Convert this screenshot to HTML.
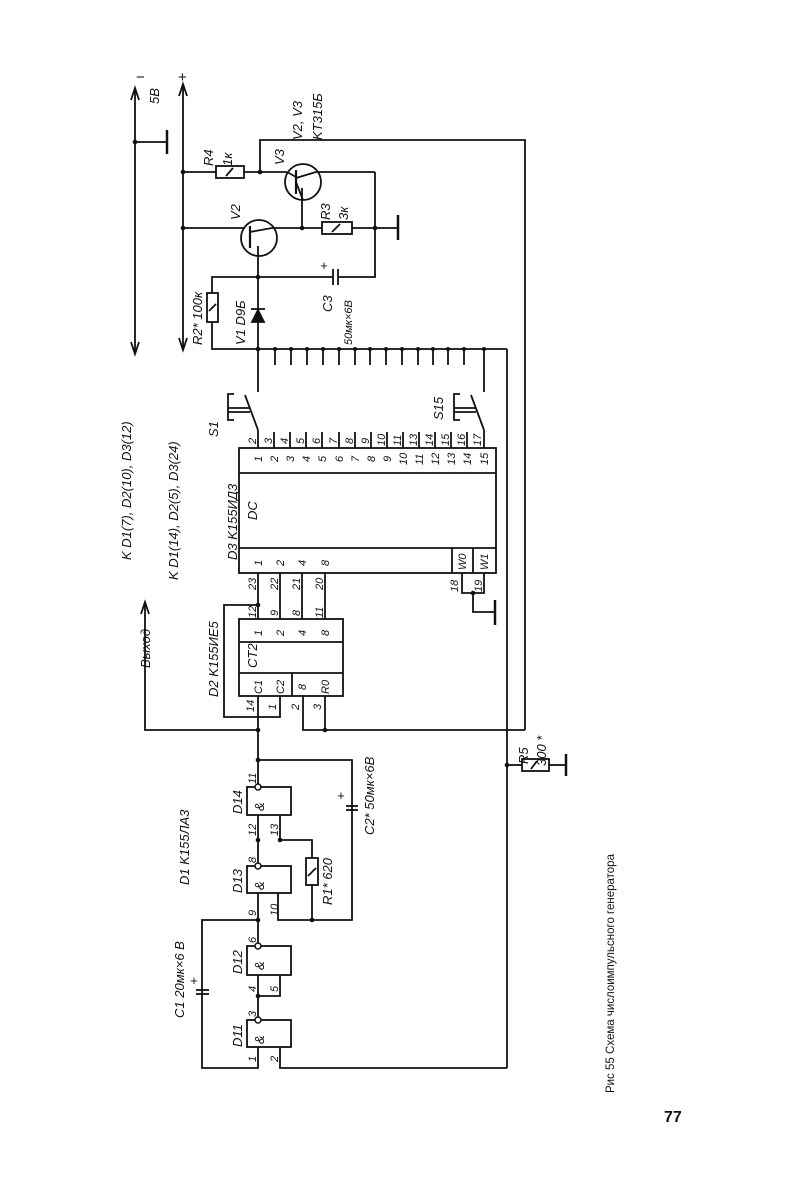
<!DOCTYPE html>
<html><head><meta charset="utf-8"><style>
html,body{margin:0;padding:0;background:#fff}
svg{display:block}
text{font-family:"Liberation Sans","DejaVu Sans",sans-serif;font-style:italic;fill:#111}
text.n{font-style:normal}
</style></head><body>
<svg width="801" height="1200" viewBox="0 0 801 1200" xmlns="http://www.w3.org/2000/svg">
<g stroke="#111" stroke-width="1.8" fill="none">
<line x1="135" y1="90" x2="135" y2="352"/>
<polyline points="131,100 135,88 139,100"/><polyline points="131,342 135,354 139,342"/>
<line x1="135" y1="142" x2="166" y2="142"/><line x1="167" y1="130" x2="167" y2="154" stroke-width="2.5"/>
<line x1="183" y1="86" x2="183" y2="348"/>
<polyline points="179,96 183,84 187,96"/><polyline points="179,338 183,350 187,338"/>
<line x1="183" y1="172" x2="216" y2="172"/><rect x="216" y="166" width="28" height="12"/><line x1="244" y1="172" x2="287" y2="172"/>
<line x1="226" y1="176" x2="233" y2="168"/>
<polyline points="260,172 260,140 525,140 525,730"/>
<circle cx="303" cy="182" r="18"/>
<line x1="296" y1="170" x2="296" y2="194" stroke-width="2.2"/>
<line x1="287" y1="172" x2="296" y2="177"/>
<line x1="296" y1="182" x2="303" y2="200"/><line x1="296" y1="178" x2="316" y2="172"/>
<line x1="316" y1="172" x2="375" y2="172"/>
<line x1="302" y1="188" x2="302" y2="228"/>
<line x1="375" y1="172" x2="375" y2="275"/>
<line x1="183" y1="228" x2="245" y2="228"/>
<circle cx="259" cy="238" r="18"/>
<line x1="250" y1="226" x2="250" y2="248" stroke-width="2.2"/>
<line x1="250" y1="232" x2="272" y2="228"/><line x1="258" y1="246" x2="258" y2="256"/>
<line x1="272" y1="228" x2="322" y2="228"/><rect x="322" y="222" width="30" height="12"/><line x1="332" y1="232" x2="340" y2="224"/>
<line x1="352" y1="228" x2="398" y2="228"/><line x1="398" y1="215" x2="398" y2="240" stroke-width="2.5"/>
<line x1="258" y1="256" x2="258" y2="349"/>
<line x1="258" y1="277" x2="333" y2="277"/><line x1="333" y1="269" x2="333" y2="285"/><line x1="338" y1="269" x2="338" y2="285"/>
<polyline points="338,277 375,277 375,274"/>
<polyline points="258,277 212,277 212,293"/><rect x="207" y="293" width="11" height="29"/><line x1="209" y1="311" x2="216" y2="304"/>
<polyline points="212,322 212,349 258,349"/>
<polygon points="252,322 264,322 258,310" fill="#111"/><line x1="251" y1="309" x2="265" y2="309"/>
<line x1="258" y1="349" x2="507" y2="349"/>
<line x1="507" y1="349" x2="507" y2="1068"/>
<g>
<line x1="275" y1="349" x2="275" y2="365"/><line x1="291" y1="349" x2="291" y2="365"/><line x1="307" y1="349" x2="307" y2="365"/><line x1="323" y1="349" x2="323" y2="365"/><line x1="339" y1="349" x2="339" y2="365"/><line x1="355" y1="349" x2="355" y2="365"/><line x1="370" y1="349" x2="370" y2="365"/><line x1="386" y1="349" x2="386" y2="365"/><line x1="402" y1="349" x2="402" y2="365"/><line x1="418" y1="349" x2="418" y2="365"/><line x1="433" y1="349" x2="433" y2="365"/><line x1="448" y1="349" x2="448" y2="365"/><line x1="464" y1="349" x2="464" y2="365"/>
</g>
<line x1="258" y1="349" x2="258" y2="392"/><line x1="484" y1="349" x2="484" y2="392"/>
<line x1="258" y1="430" x2="245" y2="395"/><line x1="228" y1="408" x2="250" y2="408"/><line x1="228" y1="412" x2="250" y2="412"/><polyline points="234,394 228,394 228,420 234,420"/>
<line x1="484" y1="430" x2="471" y2="395"/><line x1="454" y1="408" x2="476" y2="408"/><line x1="454" y1="412" x2="476" y2="412"/><polyline points="460,394 454,394 454,420 460,420"/>
<g>
<line x1="258" y1="430" x2="258" y2="448"/><line x1="274" y1="432" x2="274" y2="448"/><line x1="290" y1="432" x2="290" y2="448"/><line x1="306" y1="432" x2="306" y2="448"/><line x1="322" y1="432" x2="322" y2="448"/><line x1="339" y1="432" x2="339" y2="448"/><line x1="355" y1="432" x2="355" y2="448"/><line x1="371" y1="432" x2="371" y2="448"/><line x1="387" y1="432" x2="387" y2="448"/><line x1="403" y1="432" x2="403" y2="448"/><line x1="419" y1="432" x2="419" y2="448"/><line x1="435" y1="432" x2="435" y2="448"/><line x1="451" y1="432" x2="451" y2="448"/><line x1="467" y1="432" x2="467" y2="448"/><line x1="484" y1="430" x2="484" y2="448"/>
</g>
<rect x="239" y="448" width="257" height="125"/>
<line x1="239" y1="473" x2="496" y2="473"/><line x1="239" y1="548" x2="496" y2="548"/>
<line x1="452" y1="548" x2="452" y2="573"/><line x1="473" y1="548" x2="473" y2="573"/>
<line x1="258" y1="573" x2="258" y2="619"/><line x1="280" y1="573" x2="280" y2="619"/><line x1="302" y1="573" x2="302" y2="619"/><line x1="325" y1="573" x2="325" y2="619"/>
<polyline points="462,573 462,593 484,593 484,573"/><polyline points="473,593 473,612 495,612"/><line x1="495" y1="600" x2="495" y2="625" stroke-width="2.5"/>
<rect x="239" y="619" width="104" height="77"/>
<line x1="239" y1="642" x2="343" y2="642"/><line x1="239" y1="673" x2="343" y2="673"/><line x1="292" y1="673" x2="292" y2="696"/>
<polyline points="258,605 224,605 224,717 280,717 280,696"/>
<line x1="258" y1="696" x2="258" y2="787"/>
<polyline points="303,696 303,730 525,730"/><line x1="325" y1="696" x2="325" y2="730"/>
<polyline points="258,730 145,730 145,604"/><polyline points="141,614 145,602 149,614"/>
<polyline points="258,760 352,760 352,920 278,920 278,893"/>
<line x1="346" y1="806" x2="358" y2="806"/><line x1="346" y1="810" x2="358" y2="810"/>
<rect x="247" y="787" width="44" height="28"/><rect x="247" y="866" width="44" height="27"/><rect x="247" y="946" width="44" height="29"/><rect x="247" y="1020" width="44" height="27"/>
<line x1="258" y1="815" x2="258" y2="866"/><polyline points="280,815 280,840 312,840 312,858"/>
<rect x="306" y="858" width="12" height="27"/><line x1="308" y1="876" x2="316" y2="868"/><line x1="312" y1="885" x2="312" y2="920"/>
<line x1="258" y1="893" x2="258" y2="946"/>
<polyline points="258,920 202,920 202,1068 258,1068 258,1047"/>
<line x1="196" y1="990" x2="209" y2="990"/><line x1="196" y1="994" x2="209" y2="994"/>
<line x1="258" y1="975" x2="258" y2="1020"/><polyline points="258,996 280,996 280,975"/>
<polyline points="280,1047 280,1068 507,1068"/>
<line x1="507" y1="765" x2="522" y2="765"/><rect x="522" y="759" width="27" height="12"/><line x1="531" y1="769" x2="537" y2="761"/><line x1="549" y1="765" x2="565" y2="765"/><line x1="566" y1="754" x2="566" y2="776" stroke-width="2.5"/>
</g>
<g fill="#111">
<circle cx="135" cy="142" r="2.3"/><circle cx="183" cy="172" r="2.3"/><circle cx="183" cy="228" r="2.3"/><circle cx="260" cy="172" r="2.3"/><circle cx="302" cy="228" r="2.3"/><circle cx="375" cy="228" r="2.3"/><circle cx="258" cy="277" r="2.3"/><circle cx="258" cy="349" r="2.3"/>
<circle cx="275" cy="349" r="2"/><circle cx="291" cy="349" r="2"/><circle cx="307" cy="349" r="2"/><circle cx="323" cy="349" r="2"/><circle cx="339" cy="349" r="2"/><circle cx="355" cy="349" r="2"/><circle cx="370" cy="349" r="2"/><circle cx="386" cy="349" r="2"/><circle cx="402" cy="349" r="2"/><circle cx="418" cy="349" r="2"/><circle cx="433" cy="349" r="2"/><circle cx="448" cy="349" r="2"/><circle cx="464" cy="349" r="2"/><circle cx="484" cy="349" r="2"/>
<circle cx="258" cy="605" r="2.3"/><circle cx="473" cy="593" r="2.3"/><circle cx="258" cy="730" r="2.3"/><circle cx="325" cy="730" r="2.3"/><circle cx="258" cy="760" r="2.3"/><circle cx="258" cy="840" r="2.3"/><circle cx="280" cy="840" r="2.3"/><circle cx="258" cy="920" r="2.3"/><circle cx="312" cy="920" r="2.3"/><circle cx="258" cy="996" r="2.3"/><circle cx="507" cy="765" r="2.3"/>
</g>
<g fill="#fff" stroke="#111" stroke-width="1.5"><circle cx="258" cy="787" r="3"/><circle cx="258" cy="866" r="3"/><circle cx="258" cy="946" r="3"/><circle cx="258" cy="1020" r="3"/></g>
<g font-size="13">
<text transform="translate(131,560) rotate(-90)">K D1(7), D2(10), D3(12)</text>
<text transform="translate(178,580) rotate(-90)">K D1(14), D2(5), D3(24)</text>
<text transform="translate(159,104) rotate(-90)">5B</text>
<text class="n" x="136" y="82" font-size="15">−</text>
<text class="n" x="178" y="82" font-size="15">+</text>
<text transform="translate(302,140) rotate(-90)">V2, V3</text>
<text transform="translate(322,140) rotate(-90)">KT315Б</text>
<text transform="translate(213,166) rotate(-90)">R4</text>
<text transform="translate(232,166) rotate(-90)">1к</text>
<text transform="translate(284,165) rotate(-90)">V3</text>
<text transform="translate(240,220) rotate(-90)">V2</text>
<text transform="translate(330,220) rotate(-90)">R3</text>
<text transform="translate(348,220) rotate(-90)">3к</text>
<text x="320" y="270">+</text>
<text transform="translate(202,345) rotate(-90)">R2* 100к</text>
<text transform="translate(245,345) rotate(-90)">V1 D9Б</text>
<text transform="translate(332,312) rotate(-90)">C3</text>
<text transform="translate(352,345) rotate(-90)" font-size="11">50мк×6В</text>
<text transform="translate(218,437) rotate(-90)">S1</text>
<text transform="translate(443,420) rotate(-90)">S15</text>
</g>
<g font-size="11">
<text transform="translate(256,444) rotate(-90)">2</text><text transform="translate(272,444) rotate(-90)">3</text><text transform="translate(288,444) rotate(-90)">4</text><text transform="translate(304,444) rotate(-90)">5</text><text transform="translate(320,444) rotate(-90)">6</text><text transform="translate(337,444) rotate(-90)">7</text><text transform="translate(353,444) rotate(-90)">8</text><text transform="translate(369,444) rotate(-90)">9</text><text transform="translate(385,446) rotate(-90)">10</text><text transform="translate(401,446) rotate(-90)">11</text><text transform="translate(417,446) rotate(-90)">13</text><text transform="translate(433,446) rotate(-90)">14</text><text transform="translate(449,446) rotate(-90)">15</text><text transform="translate(465,446) rotate(-90)">16</text><text transform="translate(481,446) rotate(-90)">17</text>
<text transform="translate(262,462) rotate(-90)">1</text><text transform="translate(278,462) rotate(-90)">2</text><text transform="translate(294,462) rotate(-90)">3</text><text transform="translate(310,462) rotate(-90)">4</text><text transform="translate(326,462) rotate(-90)">5</text><text transform="translate(343,462) rotate(-90)">6</text><text transform="translate(359,462) rotate(-90)">7</text><text transform="translate(375,462) rotate(-90)">8</text><text transform="translate(391,462) rotate(-90)">9</text><text transform="translate(407,465) rotate(-90)">10</text><text transform="translate(423,465) rotate(-90)">11</text><text transform="translate(439,465) rotate(-90)">12</text><text transform="translate(455,465) rotate(-90)">13</text><text transform="translate(471,465) rotate(-90)">14</text><text transform="translate(488,465) rotate(-90)">15</text>
<text transform="translate(262,566) rotate(-90)">1</text><text transform="translate(284,566) rotate(-90)">2</text><text transform="translate(306,566) rotate(-90)">4</text><text transform="translate(329,566) rotate(-90)">8</text>
<text transform="translate(466,570) rotate(-90)">W0</text><text transform="translate(488,570) rotate(-90)">W1</text>
<text transform="translate(256,590) rotate(-90)">23</text><text transform="translate(278,590) rotate(-90)">22</text><text transform="translate(300,590) rotate(-90)">21</text><text transform="translate(323,590) rotate(-90)">20</text>
<text transform="translate(458,592) rotate(-90)">18</text><text transform="translate(482,592) rotate(-90)">19</text>
<text transform="translate(256,618) rotate(-90)">12</text><text transform="translate(278,616) rotate(-90)">9</text><text transform="translate(300,616) rotate(-90)">8</text><text transform="translate(323,618) rotate(-90)">11</text>
<text transform="translate(262,636) rotate(-90)">1</text><text transform="translate(284,636) rotate(-90)">2</text><text transform="translate(306,636) rotate(-90)">4</text><text transform="translate(329,636) rotate(-90)">8</text>
<text transform="translate(262,694) rotate(-90)">C1</text><text transform="translate(284,694) rotate(-90)">C2</text><text transform="translate(306,690) rotate(-90)">8</text><text transform="translate(329,694) rotate(-90)">R0</text>
<text transform="translate(254,712) rotate(-90)">14</text><text transform="translate(276,710) rotate(-90)">1</text><text transform="translate(299,710) rotate(-90)">2</text><text transform="translate(321,710) rotate(-90)">3</text>
<text transform="translate(256,784) rotate(-90)">11</text><text transform="translate(256,836) rotate(-90)">12</text><text transform="translate(278,836) rotate(-90)">13</text>
<text transform="translate(256,863) rotate(-90)">8</text><text transform="translate(256,916) rotate(-90)">9</text><text transform="translate(278,916) rotate(-90)">10</text>
<text transform="translate(256,943) rotate(-90)">6</text><text transform="translate(256,992) rotate(-90)">4</text><text transform="translate(278,992) rotate(-90)">5</text>
<text transform="translate(256,1017) rotate(-90)">3</text><text transform="translate(256,1062) rotate(-90)">1</text><text transform="translate(278,1062) rotate(-90)">2</text>
</g>
<g font-size="13">
<text transform="translate(237,560) rotate(-90)">D3 K155ИД3</text>
<text transform="translate(257,520) rotate(-90)">DC</text>
<text transform="translate(218,697) rotate(-90)">D2 K155ИЕ5</text>
<text transform="translate(257,668) rotate(-90)">CT2</text>
<text transform="translate(150,668) rotate(-90)">Выход</text>
<text transform="translate(189,885) rotate(-90)">D1 K155ЛА3</text>
<text transform="translate(242,814) rotate(-90)">D14</text><text transform="translate(264,811) rotate(-90)">&amp;</text>
<text transform="translate(242,893) rotate(-90)">D13</text><text transform="translate(264,890) rotate(-90)">&amp;</text>
<text transform="translate(242,974) rotate(-90)">D12</text><text transform="translate(264,970) rotate(-90)">&amp;</text>
<text transform="translate(242,1047) rotate(-90)">D11</text><text transform="translate(264,1044) rotate(-90)">&amp;</text>
<text transform="translate(332,905) rotate(-90)">R1* 620</text>
<text transform="translate(374,835) rotate(-90)">C2* 50мк×6В</text>
<text x="337" y="800">+</text>
<text transform="translate(184,1018) rotate(-90)">C1 20мк×6 В</text>
<text x="190" y="985">+</text>
<text transform="translate(528,764) rotate(-90)">R5</text>
<text transform="translate(546,766) rotate(-90)">300 *</text>
</g>
<text class="n" transform="translate(614,1093) rotate(-90)" font-size="11.5">Рис  55  Схема  числоимпульсного  генератора</text>
<text class="n" x="664" y="1122" font-size="16" font-weight="bold">77</text>
</svg>
</body></html>
